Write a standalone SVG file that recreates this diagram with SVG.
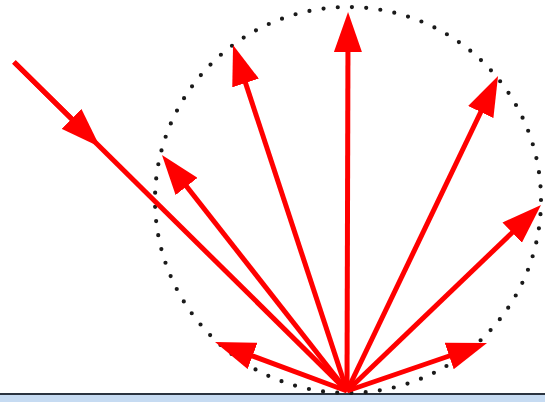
<svg xmlns="http://www.w3.org/2000/svg" width="545" height="402" viewBox="0 0 545 402">
  <style>
    .ray { stroke: #ff0000; stroke-width: 5; fill: none; marker-end: url(#head); }
    .shaft { stroke: #ff0000; stroke-width: 5; fill: none; }
  </style>
  <defs>
    <marker id="head" viewBox="0 0 40 28" refX="20" refY="14" markerWidth="40" markerHeight="28" markerUnits="userSpaceOnUse" orient="auto">
      <path d="M0,0 L40,14 L0,28 Z" fill="#ff0000"/>
    </marker>
  </defs>
  <rect width="545" height="402" fill="#ffffff"/>
  <g id="ground">
    <rect x="0" y="395" width="545" height="7" fill="#c6dbf2"/>
    <line x1="0" y1="394" x2="545" y2="394" stroke="#2b3440" stroke-width="2"/>
  </g>
  <g id="sphere">
    <circle cx="348" cy="200" r="193" fill="none" stroke="#1a1a1a" stroke-width="4.2" stroke-linecap="round" stroke-dasharray="0 14.267"/>
  </g>
  <g id="connectors">
    <line class="shaft" x1="14" y1="62" x2="347" y2="391"/>
    <path id="incoming" class="ray" d="M14,62 L85.8,132.9"/>
    <path id="ray-up" class="ray" d="M347,391 L348,32"/>
    <path id="ray-upper-left" class="ray" d="M347,391 L239.3,64"/>
    <path id="ray-left" class="ray" d="M347,391 L174.3,170.7"/>
    <path id="ray-lower-left" class="ray" d="M347,391 L233.8,349"/>
    <path id="ray-upper-right" class="ray" d="M347,391 L489.4,94"/>
    <path id="ray-right" class="ray" d="M347,391 L526.6,218.8"/>
    <path id="ray-lower-right" class="ray" d="M347,391 L468.1,349.5"/>
  </g>
</svg>
